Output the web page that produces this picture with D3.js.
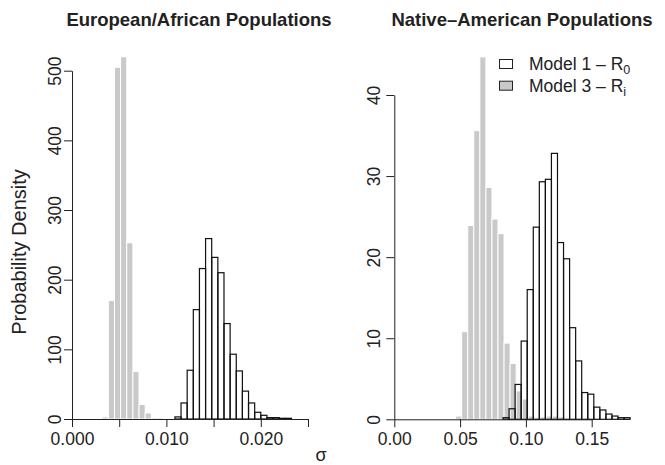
<!DOCTYPE html>
<html lang="en">
<head>
<meta charset="UTF-8">
<title>Sigma posterior densities</title>
<script src="https://d3js.org/d3.v7.min.js"></script>
<style>
  body { margin: 0; background: #fff; }
  svg { display: block; font-family: "Liberation Sans", Arial, sans-serif; }
  .axis path, .axis line { stroke: #222; stroke-width: 1; }
  .axis text { fill: #222; font-size: 17.5px; }
</style>
</head>
<body>
<svg id="chart" width="665" height="465"></svg>
<script>
// histogram densities (equal-width bins)
const euroBinW = 0.00065;
const euroR0Start = 0.0109;
const euroR0 = [3, 23, 70, 157, 216, 259, 232, 210, 137, 93, 69, 40, 23, 9.6, 5.3, 2, 2, 1, 1];
const euroRiStart = 0.0032;
const euroRi = [3, 170, 505, 520, 253, 68, 21, 8.6, 2, 2];

const natBinW = 0.0046;
const natR0Start = 0.0826;
const natR0 = [0.2, 1.3, 4.3, 9.65, 16.0, 23.7, 29.3, 29.6, 32.8, 21.8, 19.8, 11.3, 7.2, 3.3, 3.1, 1.5, 1.15, 0.65, 0.4, 0.2, 0.2];
const natRiStart = 0.0466;
const natRi = [0.4, 10.8, 23.9, 35.6, 44.7, 28.6, 24.7, 22.9, 9.4, 6.9, 3.5, 2.5, 0.4, 0.2, 0.3, 0.4, 0.4, 0.3];

const euroXTicks = [0, 0.005, 0.01, 0.015, 0.02, 0.025];
const euroXLabels = ["0.000", "", "0.010", "", "0.020", ""];
const euroYTicks = [0, 100, 200, 300, 400, 500];
const natXTicks = [0, 0.05, 0.1, 0.15];
const natXLabels = ["0.00", "0.05", "0.10", "0.15"];
const natYTicks = [0, 10, 20, 30, 40];

const titles = ["European/African Populations", "Native\u2013American Populations"];

const svg = d3.select("#chart");
const grey = "#c9c9c9";

function toBins(start, w, vals) {
  return vals.map((v, i) => ({x0: start + i * w, x1: start + (i + 1) * w, v: v}));
}

function panel(cfg) {
  const x = d3.scaleLinear().domain(cfg.xDom).range(cfg.xRange);
  const y = d3.scaleLinear().domain(cfg.yDom).range(cfg.yRange);
  const g = svg.append("g");

  // grey model 3 bars
  g.selectAll("rect.ri").data(toBins(cfg.riStart, cfg.binW, cfg.ri)).enter()
    .append("rect").attr("class", "ri")
    .attr("x", d => x(d.x0)).attr("width", d => x(d.x1) - x(d.x0))
    .attr("y", d => y(d.v)).attr("height", d => y(0) - y(d.v))
    .attr("fill", grey).attr("stroke", "#fff").attr("stroke-width", 1);

  // open model 1 bars
  g.selectAll("rect.r0").data(toBins(cfg.r0Start, cfg.binW, cfg.r0)).enter()
    .append("rect").attr("class", "r0")
    .attr("x", d => x(d.x0)).attr("width", d => x(d.x1) - x(d.x0))
    .attr("y", d => y(d.v)).attr("height", d => y(0) - y(d.v))
    .attr("fill", "none").attr("stroke", "#111").attr("stroke-width", 1.2);

  const xa = g.append("g").attr("class", "axis")
    .attr("transform", `translate(0,${cfg.yRange[0]})`)
    .call(d3.axisBottom(x).tickValues(cfg.xTicks)
      .tickFormat((d, i) => cfg.xLabels[i]).tickSize(8).tickSizeOuter(0).tickPadding(5));
  xa.selectAll("text").attr("dy", "0.75em");

  const ya = g.append("g").attr("class", "axis")
    .attr("transform", `translate(${cfg.xRange[0]},0)`)
    .call(d3.axisLeft(y).tickValues(cfg.yTicks).tickFormat(d3.format("d"))
      .tickSize(8).tickSizeOuter(0));
  ya.selectAll("text")
    .attr("transform", "rotate(-90)")
    .attr("x", 0).attr("y", -cfg.yLabOff).attr("dy", 0)
    .attr("text-anchor", "middle");
  g.selectAll(".axis .domain").attr("stroke", "#222");

  svg.append("text").attr("x", cfg.titleX).attr("y", 26)
    .attr("text-anchor", "middle").attr("font-weight", "bold")
    .attr("font-size", 18.5).attr("fill", "#222").text(cfg.title);
}

panel({
  xDom: [0, 0.025], xRange: [72, 308], yDom: [0, 500], yRange: [419, 70.7],
  binW: euroBinW, r0Start: euroR0Start, r0: euroR0, riStart: euroRiStart, ri: euroRi,
  xTicks: euroXTicks, xLabels: euroXLabels, yTicks: euroYTicks, yLabOff: 11,
  title: titles[0], titleX: 199
});

panel({
  xDom: [0, 0.15], xRange: [394.3, 591.7], yDom: [0, 40], yRange: [419.3, 95],
  binW: natBinW, r0Start: natR0Start, r0: natR0, riStart: natRiStart, ri: natRi,
  xTicks: natXTicks, xLabels: natXLabels, yTicks: natYTicks, yLabOff: 14,
  title: titles[1], titleX: 522
});

// axis titles
svg.append("text").attr("transform", "translate(26,252) rotate(-90)")
  .attr("text-anchor", "middle").attr("font-size", 20).attr("fill", "#222")
  .text("Probability Density");
svg.append("text").attr("x", 321).attr("y", 461)
  .attr("text-anchor", "middle").attr("font-size", 18).attr("fill", "#222")
  .text("\u03c3");

// legend
const legend = svg.append("g");
const legItems = [
  {fill: "#fff", name: "Model 1 \u2013 R", sub: "0"},
  {fill: grey, name: "Model 3 \u2013 R", sub: "i"}
];
legItems.forEach((it, i) => {
  const yy = 59.5 + i * 21.7;
  legend.append("rect").attr("x", 499.5).attr("y", yy).attr("width", 13).attr("height", 9)
    .attr("fill", it.fill).attr("stroke", "#222").attr("stroke-width", 1);
  const t = legend.append("text").attr("x", 529).attr("y", yy + 10.5)
    .attr("font-size", 17.5).attr("fill", "#222");
  t.append("tspan").text(it.name);
  t.append("tspan").attr("dy", 4).attr("font-size", 12.5).text(it.sub);
});
</script>
</body>
</html>
